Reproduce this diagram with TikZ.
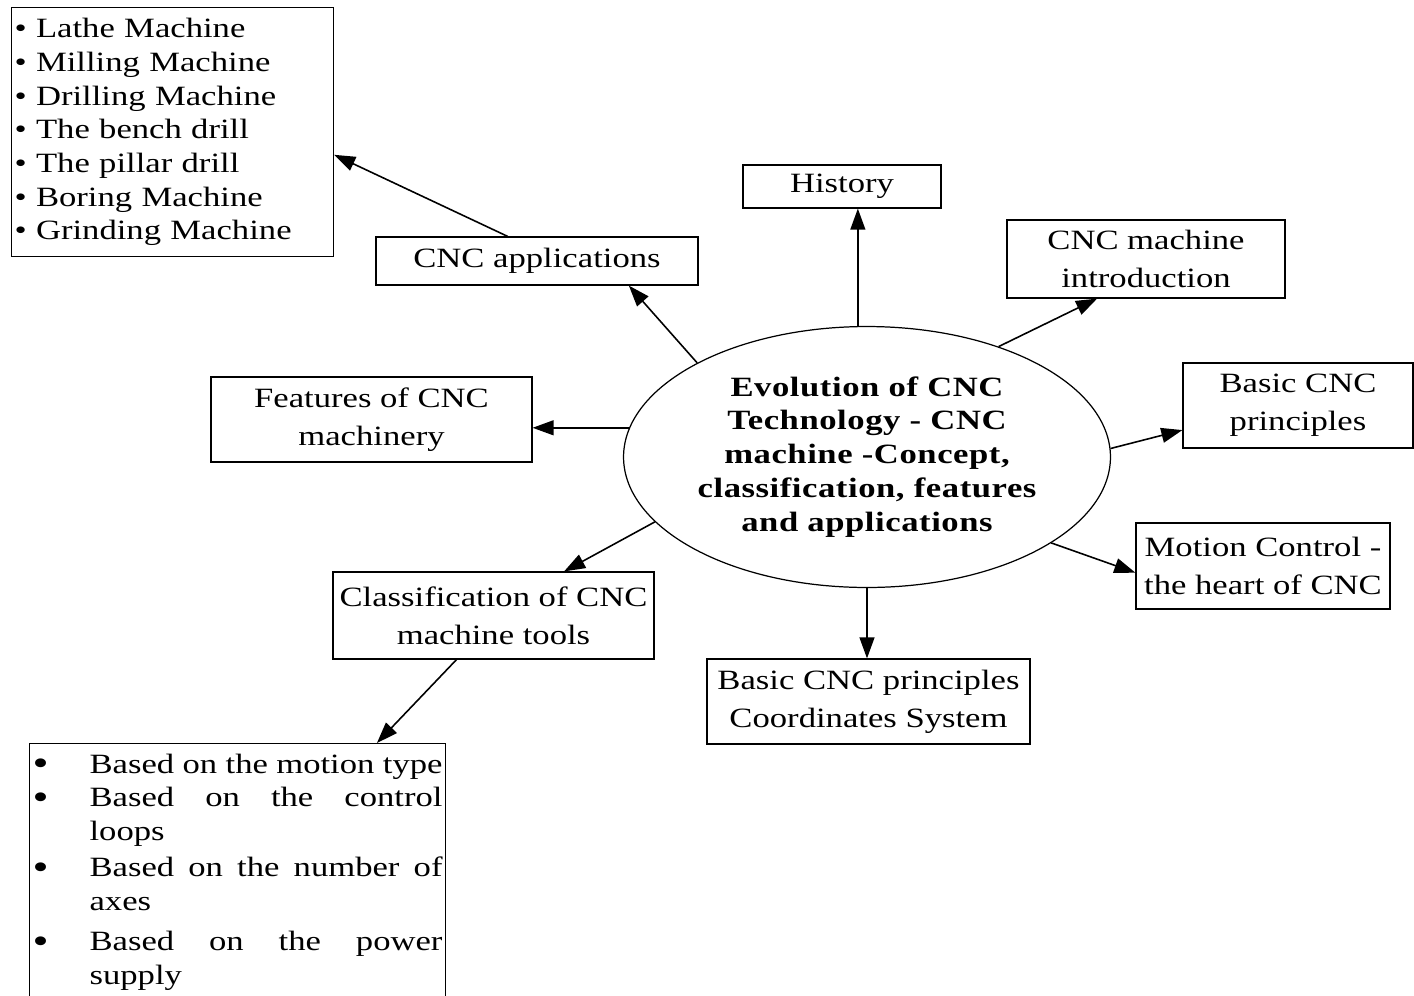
\documentclass[tikz,border=0pt]{standalone}
\usepackage{fontspec}
\setmainfont{Liberation Serif}[FakeStretch=1.24]
\usetikzlibrary{arrows.meta,shapes.geometric}

\newcommand{\bul}{{\fontsize{21}{0}\selectfont\raisebox{-1.5pt}{•}}}
\newcommand{\jline}[1]{\hbox to 7.06cm{#1}}

\begin{document}
\begin{tikzpicture}[x=0.02cm, y=-0.02cm,
    box/.style = {draw, line width=0.7pt, align=center, inner sep=0pt, font=\fontsize{15.9}{21.5}\selectfont},
    hub/.style = {draw, ellipse, line width=0.7pt, inner sep=0pt, align=center, minimum width=9.74cm, minimum height=5.22cm, font=\fontsize{15.9}{19.3}\selectfont\bfseries},
    link/.style = {line width=0.9pt, -{Triangle[length=12pt,width=8.5pt]}}]
    \useasboundingbox (0,0) rectangle (1414,995);

    \node[hub] (evo) at (867,457) {\addfontfeature{LetterSpace=2}Evolution of CNC\\\addfontfeature{LetterSpace=2}Technology - CNC\\\addfontfeature{LetterSpace=2}machine -Concept,\\\addfontfeature{LetterSpace=2}classification, features\\\addfontfeature{LetterSpace=2}and applications};

    \node[box, anchor=north west, align=left, text width=6.32cm, inner xsep=0.06cm, minimum height=4.98cm, font=\fontsize{15.9}{19.2}\selectfont] (lst) at (11,7)
        {• Lathe Machine\\• Milling Machine\\• Drilling Machine\\• The bench drill\\• The pillar drill\\• Boring Machine\\• Grinding Machine\\[-6pt]};
    \node[box, minimum width=6.44cm, minimum height=0.96cm] (apps) at (537,261) {CNC applications};
    \node[box, minimum width=3.96cm, minimum height=0.86cm] (hist) at (842,186.5) {History};
    \node[box, minimum width=5.56cm, minimum height=1.56cm] (intro) at (1146,259) {CNC machine\\introduction};
    \node[box, minimum width=4.6cm, minimum height=1.7cm] (basic) at (1298,405.5) {Basic CNC\\principles};
    \node[box, minimum width=5.08cm, minimum height=1.72cm] (motion) at (1263,566) {Motion Control -\\the heart of CNC};
    \node[box, minimum width=6.46cm, minimum height=1.7cm] (coord) at (868.5,701.5) {Basic CNC principles\\Coordinates System};
    \node[box, minimum width=6.42cm, minimum height=1.74cm] (clas) at (493.5,615.5) {Classification of CNC\\machine tools};
    \node[box, minimum width=6.42cm, minimum height=1.7cm] (feat) at (371.5,419.5) {Features of CNC\\machinery};

    \node[box, anchor=north west, align=left, text width=8.2cm, inner xsep=0.06cm, inner ysep=0.2cm, font=\fontsize{15.9}{19.3}\selectfont] (types) at (29,743)
        {\makebox[1.14cm][l]{\bul}\jline{Based\hfil on\hfil the\hfil motion\hfil type}\\
         \makebox[1.14cm][l]{\bul}\jline{Based\hfill on\hfill the\hfill control}\\
         \hspace*{1.14cm}loops\\[1pt]
         \makebox[1.14cm][l]{\bul}\jline{Based\hfill on\hfill the\hfill number\hfill of}\\
         \hspace*{1.14cm}axes\\[3.5pt]
         \makebox[1.14cm][l]{\bul}\jline{Based\hfill on\hfill the\hfill power}\\
         \hspace*{1.14cm}supply};

    \draw[link] (evo.94.8) -- (evo.94.8 |- hist.south);
    \draw[link] (evo.151.9) -- (apps.-15.3);
    \draw[link] (apps.140.4) -- (lst.-8.3);
    \draw[link] (evo.40.3) -- (intro.219.2);
    \draw[link] (evo.2.1) -- (basic.192.5);
    \draw[link] (evo.-25.9) -- (motion.183.2);
    \draw[link] (evo.south) -- (evo.south |- coord.north);
    \draw[link] (evo.197.6) -- (clas.32.4);
    \draw[link] (evo.173.9) -- (evo.173.9 -| feat.east);
    \draw[link] (clas.230) -- ([xshift=6.96cm]types.north west);

\end{tikzpicture}
\end{document}
